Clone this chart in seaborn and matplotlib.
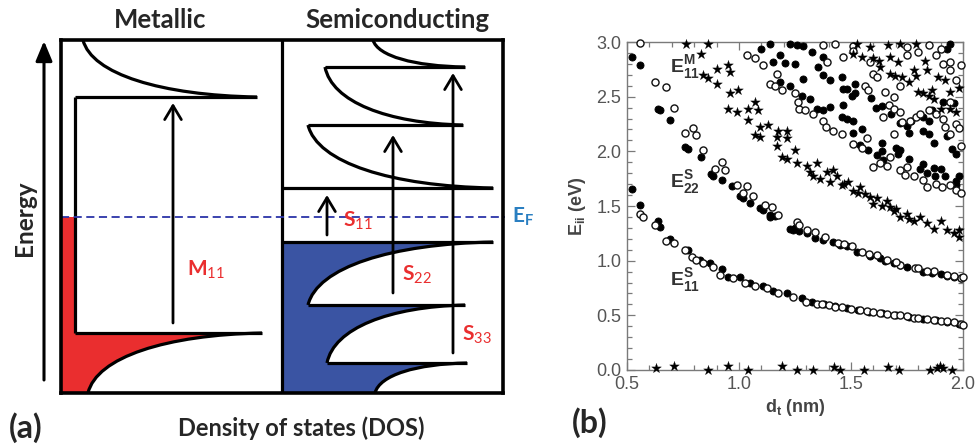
import numpy as np
import pandas as pd
import matplotlib
matplotlib.use("Agg")
import matplotlib.pyplot as plt
from matplotlib.path import Path
from matplotlib.patches import PathPatch
from matplotlib.ticker import MultipleLocator
import seaborn as sns

sns.set_theme(style="white")
plt.rcParams["font.family"] = ["Lato", "DejaVu Sans"]
plt.rcParams["mathtext.fontset"] = "custom"
plt.rcParams["mathtext.rm"] = "Lato"
plt.rcParams["mathtext.bf"] = "Lato:bold"
plt.rcParams["mathtext.sf"] = "Liberation Sans:bold"

# ---------------- Panel (a) schematic data (DOS units 0..442, energy 0..353) ----------------
ef_level = 176
metal_levels = [296, 60]
metal_tips = [196, 201]
metal_plateau = 14
metal_curve_ends = [(22, 353), (27, 0)]
semi_levels = [326, 268, 205, 151, 88, 30]
semi_left = [264, 247, 221, 221, 247, 266]
semi_tips = [404, 402, 432, 432, 404, 406]
semi_curve_ends = [(312, 353), (264, 326), (247, 268), (247, 88), (266, 30), (314, 0)]
divider_x = 221
arrow_labels = ["M", "S", "S", "S"]
arrow_subs = ["11", "11", "22", "33"]
arrow_x = [112, 266, 332, 392]
arrow_from = [70, 158, 100, 40]
arrow_to = [290, 198, 258, 320]
label_pos = [(126, 123), (282, 172), (341, 118), (401, 58)]

# ---------------- Panel (b) Kataura plot data ----------------
filled_pts = [
    (0.522, 1.66), (0.560, 1.51), (0.639, 1.365), (0.649, 1.31), (0.691, 1.20), (0.773, 1.10),
    (0.825, 1.01), (0.87, 0.98), (0.922, 0.92), (0.952, 0.853), (1.004, 0.847), (1.049, 0.80),
    (1.108, 0.768), (1.153, 0.725), (1.213, 0.70), (1.28, 0.655), (1.325, 0.624), (1.38, 0.60),
    (1.43, 0.585), (1.48, 0.57), (1.53, 0.55), (1.58, 0.535), (1.64, 0.52), (1.70, 0.50),
    (1.76, 0.485), (1.82, 0.47), (1.88, 0.455), (1.93, 0.44), (1.98, 0.425),
    (0.522, 2.86), (0.56, 2.79), (0.639, 2.39), (0.649, 2.376), (0.691, 2.29), (0.758, 2.04),
    (0.773, 2.02), (0.832, 1.95), (0.877, 1.79), (0.885, 1.77), (0.922, 1.74), (0.967, 1.68),
    (1.004, 1.59), (1.016, 1.57), (1.049, 1.53), (1.093, 1.48), (1.108, 1.46), (1.138, 1.40),
    (1.228, 1.29), (1.243, 1.28), (1.302, 1.25), (1.377, 1.19), (1.42, 1.17), (1.481, 1.13),
    (1.526, 1.08), (1.585, 1.04), (1.69, 0.975), (1.75, 0.94), (1.82, 0.90), (1.90, 0.88),
    (1.96, 0.85), (1.25, 1.30), (1.27, 1.27), (1.14, 1.42), (1.16, 1.41), (1.34, 1.21),
    (1.45, 1.14), (1.63, 1.02), (1.65, 1.00), (1.72, 0.96), (1.86, 0.89), (1.93, 0.86), (1.99, 0.84),
    (1.10, 2.94), (1.138, 2.985), (1.228, 2.985), (1.257, 2.97), (1.287, 2.96), (1.325, 2.91),
    (1.153, 2.82), (1.183, 2.88), (1.205, 2.81), (1.25, 2.80), (1.183, 2.635), (1.228, 2.60),
    (1.287, 2.665), (1.354, 2.77), (1.377, 2.86), (1.28, 2.51), (1.317, 2.48), (1.347, 2.39),
    (1.377, 2.375), (1.407, 2.41), (1.377, 2.70), (1.407, 2.65), (1.458, 2.68), (1.466, 2.57),
    (1.48, 2.57), (1.503, 2.51), (1.518, 2.62), (1.59, 2.49), (1.61, 2.40), (1.64, 2.415),
    (1.466, 2.42), (1.458, 2.315), (1.48, 2.30), (1.51, 2.28), (1.68, 2.34), (1.72, 2.26),
    (1.75, 2.23), (1.77, 2.28), (1.76, 2.17), (1.82, 2.19), (1.85, 2.16), (1.87, 2.08),
    (1.93, 2.14), (1.95, 2.02), (1.97, 1.98), (1.55, 2.20), (1.51, 2.17), (1.52, 2.53),
    (1.82, 2.31), (1.85, 2.28), (1.86, 2.375), (1.94, 2.985), (1.93, 2.94), (1.91, 2.45),
    (1.96, 2.44), (1.54, 2.06), (1.578, 2.01), (1.615, 1.965), (1.645, 1.92), (1.64, 2.08),
    (1.64, 2.00), (1.71, 1.98), (1.76, 1.93), (1.82, 1.88), (1.84, 1.80), (1.87, 1.85),
    (1.92, 1.77), (1.97, 1.73), (1.70, 2.03), (1.72, 2.01), (1.81, 1.84), (1.876, 1.77),
    (1.90, 1.84), (1.98, 1.77), (1.97, 1.69),
]
open_pts = [
    (0.56, 1.43), (0.572, 1.40), (0.624, 1.325), (0.676, 1.18), (0.709, 1.16), (0.761, 1.10),
    (0.788, 1.035), (0.81, 1.005), (0.84, 0.975), (0.885, 0.94), (0.914, 0.87), (0.974, 0.838),
    (1.026, 0.80), (1.071, 0.768), (1.123, 0.746), (1.175, 0.70), (1.243, 0.67), (1.30, 0.624),
    (1.347, 0.603), (1.37, 0.60), (1.40, 0.59), (1.43, 0.58), (1.46, 0.575), (1.50, 0.56),
    (1.54, 0.545), (1.57, 0.54), (1.60, 0.53), (1.63, 0.525), (1.66, 0.515), (1.69, 0.505),
    (1.72, 0.50), (1.75, 0.49), (1.78, 0.48), (1.80, 0.475), (1.84, 0.465), (1.87, 0.455),
    (1.90, 0.45), (1.93, 0.445), (1.96, 0.435), (1.99, 0.42), (2.0, 0.415),
    (0.624, 2.63), (0.676, 2.59), (0.709, 2.40), (0.758, 2.17), (0.795, 2.21), (0.81, 2.15),
    (0.84, 2.01), (0.892, 1.84), (0.922, 1.90), (0.937, 1.83), (0.989, 1.69), (1.034, 1.68),
    (1.064, 1.59), (1.116, 1.51), (1.146, 1.49), (1.175, 1.42), (1.257, 1.35), (1.27, 1.33),
    (1.302, 1.28), (1.339, 1.26), (1.384, 1.22), (1.503, 1.133), (1.548, 1.08), (1.615, 1.05),
    (1.66, 1.01), (1.72, 0.96), (1.787, 0.93), (1.87, 0.91), (1.93, 0.87), (1.99, 0.84),
    (1.02, 1.62), (1.44, 1.16), (1.47, 1.15), (1.58, 1.06), (1.70, 0.99), (1.80, 0.93),
    (1.84, 0.91), (1.96, 0.86), (2.0, 0.85),
    (0.557, 2.99), (1.034, 2.88), (1.071, 2.85), (1.108, 2.79), (1.168, 2.71), (1.138, 2.62),
    (1.16, 2.60), (1.19, 2.56), (1.25, 2.53), (1.27, 2.39), (1.295, 2.375), (1.265, 2.45),
    (1.332, 2.345), (1.377, 2.28), (1.39, 2.22), (1.42, 2.19), (1.458, 2.16), (1.377, 2.97),
    (1.43, 2.985), (1.466, 2.86), (1.392, 2.82), (1.51, 2.96), (1.51, 2.92), (1.585, 2.82),
    (1.60, 2.71), (1.615, 2.68), (1.563, 2.60), (1.578, 2.56), (1.652, 2.54), (1.69, 2.50),
    (1.72, 2.60), (1.749, 2.955), (1.749, 2.88), (1.80, 2.91), (1.85, 2.97), (1.90, 2.94),
    (1.88, 2.88), (1.91, 2.80), (1.94, 2.74), (1.99, 2.79), (1.97, 2.65), (1.94, 2.82),
    (1.51, 2.07), (1.548, 2.03), (1.60, 1.86), (1.63, 1.89), (1.66, 1.87), (1.675, 1.95),
    (1.72, 1.83), (1.75, 1.86), (1.74, 1.78), (1.78, 1.77), (1.82, 1.74), (1.84, 1.675),
    (1.88, 1.705), (1.905, 1.675), (1.94, 1.69), (1.97, 1.645), (1.99, 1.615), (1.645, 2.315),
    (1.67, 2.42), (1.69, 2.39), (1.72, 2.36), (1.727, 2.27), (1.764, 2.28), (1.79, 2.31),
    (1.81, 2.345), (1.85, 2.375), (1.88, 2.345), (1.91, 2.30), (1.92, 2.22), (1.94, 2.16),
    (1.97, 2.25), (1.98, 2.21), (1.94, 2.45), (1.69, 2.16), (1.57, 2.12), (1.99, 2.05),
]
star_pts = [
    (0.765, 2.985), (0.862, 2.985), (0.832, 2.89), (0.84, 2.70), (0.862, 2.67), (0.9, 2.62),
    (0.9, 2.75), (0.952, 2.79), (0.959, 2.73), (0.959, 2.53), (0.996, 2.56), (0.952, 2.39),
    (0.989, 2.36), (1.041, 2.39), (1.071, 2.45), (1.086, 2.38), (1.041, 2.29), (1.071, 2.15),
    (1.093, 2.13), (1.093, 2.22), (1.131, 2.24), (1.168, 2.13), (1.175, 2.19), (1.213, 2.19),
    (1.213, 2.12), (1.168, 2.05), (1.19, 1.95), (1.213, 1.93), (1.25, 2.01), (1.257, 1.89),
    (1.302, 1.87), (1.317, 1.81), (1.347, 1.89), (1.332, 1.77), (1.362, 1.75), (1.392, 1.81),
    (1.42, 1.83), (1.436, 1.77), (1.407, 1.72), (1.458, 1.69), (1.488, 1.72), (1.51, 1.64),
    (1.54, 1.675), (1.563, 1.61), (1.585, 1.58), (1.60, 1.52), (1.615, 1.57), (1.66, 1.55),
    (1.675, 1.49), (1.69, 1.45), (1.72, 1.40), (1.75, 1.43), (1.78, 1.36), (1.81, 1.40),
    (1.84, 1.34), (1.87, 1.29), (1.90, 1.36), (1.93, 1.28), (1.96, 1.25), (1.98, 1.22),
    (1.98, 1.285), (1.47, 1.70), (1.53, 1.62), (1.64, 1.50), (1.70, 1.47), (1.76, 1.38),
    (1.526, 2.985), (1.585, 2.955), (1.667, 2.97), (1.72, 2.985), (1.79, 2.985), (1.51, 2.89),
    (1.548, 2.86), (1.60, 2.85), (1.623, 2.83), (1.675, 2.86), (1.71, 2.82), (1.63, 2.77),
    (1.675, 2.71), (1.697, 2.69), (1.727, 2.68), (1.757, 2.63), (1.78, 2.74), (1.79, 2.69),
    (1.80, 2.54), (1.82, 2.53), (1.85, 2.51), (1.86, 2.56), (1.87, 2.48), (1.89, 2.68),
    (1.92, 2.65), (1.94, 2.54), (1.94, 2.39), (1.97, 2.36), (1.98, 2.58), (1.90, 2.39),
    (1.83, 2.83), (1.84, 2.74),
    (0.628, 0.02), (0.709, 0.04), (0.862, 0.0), (0.952, 0.037), (1.041, 0.0), (1.193, 0.037),
    (1.257, 0.0), (1.329, 0.0), (1.425, 0.03), (1.449, 0.0), (1.559, 0.0), (1.667, 0.025),
    (1.716, 0.0), (1.854, 0.0), (1.884, 0.015), (1.899, 0.037), (1.911, 0.02), (1.951, 0.0),
]
band_labels = [r"$\mathsf{E}_{\mathsf{11}}^{\mathsf{M}}$", r"$\mathsf{E}_{\mathsf{22}}^{\mathsf{S}}$",
               r"$\mathsf{E}_{\mathsf{11}}^{\mathsf{S}}$"]
band_label_pos = [(0.69, 2.76), (0.69, 1.71), (0.69, 0.81)]
x_ticks = [0.5, 1.0, 1.5, 2.0]
y_ticks = [0.0, 0.5, 1.0, 1.5, 2.0, 2.5, 3.0]

W, H = 976, 445
fig = plt.figure(figsize=(W / 100, H / 100), dpi=100)
fig.patch.set_facecolor("white")

RED = "#ea2e2f"
BLUE = "#3a54a3"
LW = 2.3


def bez(p0, p3):
    (x0, e0), (x3, e3) = p0, p3
    p1 = (x3 + 0.45 * (x0 - x3), e0 + 0.03 * (e3 - e0))
    p2 = (x3 + 0.05 * (x0 - x3), e0 + 0.40 * (e3 - e0))
    return [p1, p2, (x3, e3)]


# ---------------- Panel (a) ----------------
axa = fig.add_axes([61 / W, (H - 393) / H, 442 / W, 353 / H])
axa.set_xlim(0, 442)
axa.set_ylim(0, 353)
axa.set_xticks([])
axa.set_yticks([])
for s in axa.spines.values():
    s.set_linewidth(2.6)
    s.set_color("black")
    s.set_zorder(10)

# red filled (metallic occupied states)
verts = [(0, ef_level), (metal_plateau, ef_level), (metal_plateau, metal_levels[1]),
         (metal_tips[1], metal_levels[1])] + bez((metal_tips[1], metal_levels[1]), metal_curve_ends[1]) + [(0, 0), (0, 0)]
codes = [Path.MOVETO, Path.LINETO, Path.LINETO, Path.LINETO, Path.CURVE4, Path.CURVE4, Path.CURVE4,
         Path.LINETO, Path.CLOSEPOLY]
axa.add_patch(PathPatch(Path(verts, codes), facecolor=RED, edgecolor="none", zorder=1))

# blue filled (semiconducting valence states)
verts = [(divider_x, semi_levels[3])]
codes = [Path.MOVETO]
for i in [3, 4, 5]:
    verts += [(semi_tips[i], semi_levels[i])]
    codes += [Path.LINETO]
    verts += bez((semi_tips[i], semi_levels[i]), semi_curve_ends[i])
    codes += [Path.CURVE4] * 3
verts += [(divider_x, 0), (divider_x, 0)]
codes += [Path.LINETO, Path.CLOSEPOLY]
axa.add_patch(PathPatch(Path(verts, codes), facecolor=BLUE, edgecolor="none", zorder=1))

# metallic DOS outline
axa.plot([metal_plateau, metal_plateau], [metal_levels[1], metal_levels[0]], color="black", lw=LW,
         solid_capstyle="butt", zorder=3)
for lev, tip, end in zip(metal_levels, metal_tips, metal_curve_ends):
    axa.plot([metal_plateau, tip], [lev, lev], color="black", lw=LW, solid_capstyle="butt", zorder=3)
    v = [(tip, lev)] + bez((tip, lev), end)
    axa.add_patch(PathPatch(Path(v, [Path.MOVETO] + [Path.CURVE4] * 3), fill=False, lw=LW,
                            edgecolor="black", zorder=3))

# semiconducting DOS outline
for lev, left, tip, end in zip(semi_levels, semi_left, semi_tips, semi_curve_ends):
    axa.plot([left, tip], [lev, lev], color="black", lw=LW, solid_capstyle="butt", zorder=3)
    v = [(tip, lev)] + bez((tip, lev), end)
    axa.add_patch(PathPatch(Path(v, [Path.MOVETO] + [Path.CURVE4] * 3), fill=False, lw=LW,
                            edgecolor="black", zorder=3))
axa.axvline(divider_x, color="black", lw=LW, zorder=3)

# Fermi level
axa.plot([0, 444], [ef_level, ef_level], color="#2b34a8", lw=1.3, dashes=(4.5, 2.5), zorder=4,
         clip_on=False)
axa.text(451, ef_level, r"E$_\mathbf{F}$", color="#2a7fc1", fontsize=15, fontweight="bold",
         va="center", ha="left")

# transition arrows and labels
for x, e0, e1, lab, sub, (lx, ly) in zip(arrow_x, arrow_from, arrow_to, arrow_labels, arrow_subs, label_pos):
    axa.annotate("", xy=(x, e1), xytext=(x, e0),
                 arrowprops=dict(arrowstyle="->,head_length=0.5,head_width=0.3", lw=2.0,
                                 color="black", mutation_scale=20, shrinkA=0, shrinkB=0), zorder=5)
    axa.text(lx, ly, r"$\mathbf{%s}_{\mathrm{%s}}$" % (lab, sub), color=RED, fontsize=15,
             va="center", ha="left", zorder=6)

# energy axis
axa.annotate("", xy=(-17, 352), xytext=(-17, 13), annotation_clip=False,
             arrowprops=dict(arrowstyle="-|>,head_length=0.6,head_width=0.25", lw=2.2,
                             color="black", mutation_scale=20, shrinkA=0, shrinkB=0))
axa.text(-37, 175, "Energy", rotation=90, fontsize=17.5, fontweight="bold", ha="center", va="center")
axa.text(99, 373, "Metallic", fontsize=18.5, fontweight="bold", ha="center", va="center")
axa.text(336, 373, "Semiconducting", fontsize=18.5, fontweight="bold", ha="center", va="center")
axa.text(240, -35, "Density of states (DOS)", fontsize=17, fontweight="bold", ha="center", va="center")
axa.text(-35, -35, "(a)", fontsize=23, fontweight="bold", ha="center", va="center")

# ---------------- Panel (b) ----------------
axb = fig.add_axes([627 / W, (H - 370) / H, 336 / W, 328 / H])
fdf = pd.DataFrame(filled_pts, columns=["d", "E"])
odf = pd.DataFrame(open_pts, columns=["d", "E"])
sdf = pd.DataFrame(star_pts, columns=["d", "E"])
sns.scatterplot(data=fdf, x="d", y="E", ax=axb, marker="o", s=26, color="black", edgecolor="black",
                linewidth=0.6, clip_on=False, zorder=3, legend=False)
sns.scatterplot(data=odf, x="d", y="E", ax=axb, marker="o", s=26, color="white", edgecolor="#111111",
                linewidth=1.0, clip_on=False, zorder=4, legend=False)
sns.scatterplot(data=sdf, x="d", y="E", ax=axb, marker="*", s=55, color="black", edgecolor="black",
                linewidth=0.2, clip_on=False, zorder=5, legend=False)
axb.set_xlim(0.5, 2.0)
axb.set_ylim(0.0, 3.0)
axb.xaxis.set_minor_locator(MultipleLocator(0.1))
axb.yaxis.set_minor_locator(MultipleLocator(0.1))
axb.set_xticks(x_ticks)
axb.set_yticks(y_ticks)
axb.set_xticklabels([f"{v:.1f}" for v in x_ticks], fontsize=13, color="#555555",
                    fontfamily="Liberation Sans")
axb.set_yticklabels([f"{v:.1f}" for v in y_ticks], fontsize=13, color="#555555",
                    fontfamily="Liberation Sans")
GRAY = "#7a7a7a"
for s in axb.spines.values():
    s.set_color(GRAY)
    s.set_linewidth(1.0)
axb.tick_params(which="both", direction="in", top=True, right=True, bottom=True, left=True,
                color=GRAY, width=0.9)
axb.tick_params(which="major", length=6, pad=4)
axb.tick_params(which="minor", length=3.5)
axb.set_xlabel(r"$\mathsf{d_t}$ (nm)", fontsize=13, fontweight="bold", color="#444444",
               fontfamily="Liberation Sans", labelpad=3)
axb.set_ylabel(r"$\mathsf{E_{ii}}$ (eV)", fontsize=13, fontweight="bold", color="#444444",
               fontfamily="Liberation Sans", labelpad=6)
for txt, (x, y) in zip(band_labels, band_label_pos):
    axb.text(x, y, txt, fontsize=14, color="#333333", ha="left", va="center", zorder=6)
fig.text(590 / W, 1 - 423 / H, "(b)", fontsize=23, fontweight="bold", ha="center", va="center")

fig.savefig("out.png", dpi=100, facecolor="white")
